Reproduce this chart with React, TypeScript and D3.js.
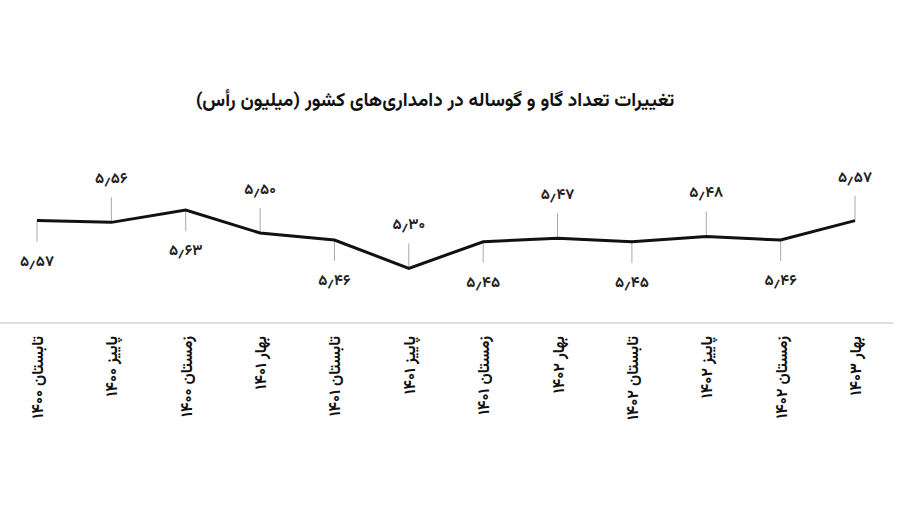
import React from "react";
import * as d3 from "d3";

const categories = [
  "تابستان ۱۴۰۰",
  "پاییز ۱۴۰۰",
  "زمستان ۱۴۰۰",
  "بهار ۱۴۰۱",
  "تابستان ۱۴۰۱",
  "پاییز ۱۴۰۱",
  "زمستان ۱۴۰۱",
  "بهار ۱۴۰۲",
  "تابستان ۱۴۰۲",
  "پاییز ۱۴۰۲",
  "زمستان ۱۴۰۲",
  "بهار ۱۴۰۳",
];
const values = [5.57, 5.56, 5.63, 5.5, 5.46, 5.3, 5.45, 5.47, 5.45, 5.48, 5.46, 5.57];
const labelAbove = [false, true, false, true, false, true, false, true, false, true, false, true];
const title = "تغییرات تعداد گاو و گوساله در دامداری‌های کشور (میلیون رأس)";

const faDigits = "۰۱۲۳۴۵۶۷۸۹";
const toFa = (v: number) =>
  v
    .toFixed(2)
    .replace(".", "٫")
    .replace(/[0-9]/g, (d) => faDigits[+d]);

const W = 900;
const H = 525;
const FONT = "Vazirmatn, 'Noto Sans Arabic', 'DejaVu Sans', sans-serif";

export default function App() {
  const x = d3.scalePoint<string>().domain(categories).range([37, 855]);
  const y = d3.scaleLinear().domain([5.3, 5.63]).range([268.3, 210]);
  const line = d3
    .line<number>()
    .x((_, i) => x(categories[i]) as number)
    .y((d) => y(d));

  return (
    <svg
      width={W}
      height={H}
      style={{ position: "absolute", left: 0, top: 0, background: "#fff" }}
      fontFamily={FONT}
    >
      <rect width={W} height={H} fill="#fff" />
      <text
        x={435}
        y={101}
        textAnchor="middle"
        dominantBaseline="middle"
        fontSize={19}
        fontWeight="bold"
        fill="#111"
      >
        {title}
      </text>
      {values.map((v, i) => {
        const px = x(categories[i]) as number;
        const py = y(v);
        const up = labelAbove[i];
        return (
          <g key={"lab" + i}>
            <line
              x1={px}
              x2={px}
              y1={py}
              y2={up ? py - 25 : py + 21}
              stroke="#aaa"
              strokeWidth={1}
            />
            <text
              x={px}
              y={up ? py - 43 : py + 41}
              textAnchor="middle"
              dominantBaseline="middle"
              fontSize={15}
              fontWeight="bold"
              fill="#222"
            >
              {toFa(v)}
            </text>
          </g>
        );
      })}
      <path d={line(values) || ""} fill="none" stroke="#111" strokeWidth={3} strokeLinejoin="miter" />
      <line x1={0} x2={893} y1={323} y2={323} stroke="#ddd" strokeWidth={2} />
      {categories.map((c, i) => {
        const px = x(c) as number;
        return (
          <text
            key={"cat" + i}
            transform={`translate(${px + 6},336) rotate(-90)`}
            textAnchor="end"
            fontSize={16}
            fontWeight="bold"
            fill="#111"
          >
            {c}
          </text>
        );
      })}
    </svg>
  );
}
